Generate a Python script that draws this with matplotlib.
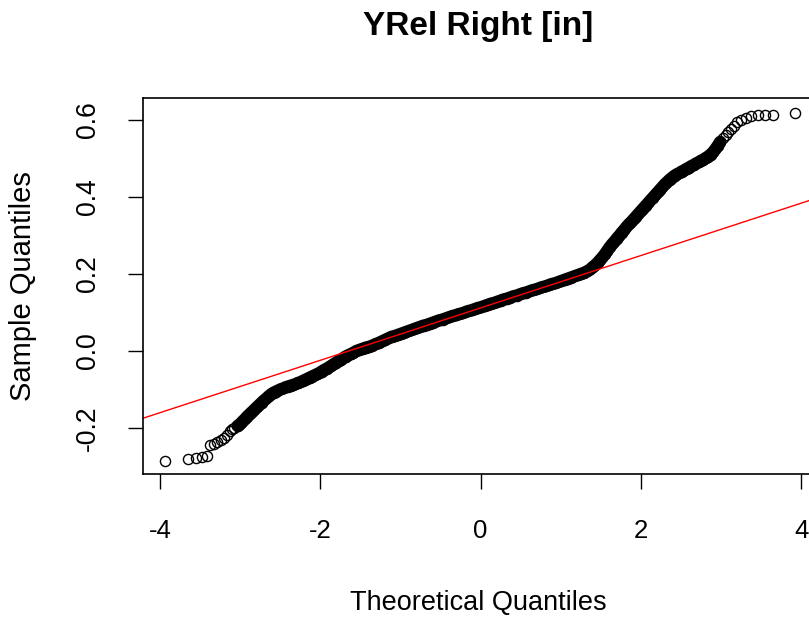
import matplotlib
matplotlib.use("Agg")
import matplotlib.pyplot as plt

plt.rcParams['font.family'] = ['Liberation Sans', 'DejaVu Sans']
plt.rcParams['axes.unicode_minus'] = False

# lower tail (sparse)
tail_lo_x = [-3.94, -3.65, -3.55, -3.47, -3.41, -3.37, -3.33, -3.29, -3.24,
             -3.20, -3.16, -3.13, -3.10, -3.07]
tail_lo_y = [-0.286, -0.281, -0.277, -0.275, -0.271, -0.244, -0.240, -0.236,
             -0.231, -0.226, -0.218, -0.208, -0.203, -0.199]

# left part of the dense band
band1_x = [-3.03, -3.00, -2.97, -2.94, -2.91, -2.88, -2.85, -2.82, -2.79, -2.76,
           -2.73, -2.70, -2.67, -2.64, -2.61, -2.58, -2.55, -2.52, -2.49, -2.46,
           -2.43, -2.40, -2.37, -2.34, -2.31, -2.28, -2.25, -2.22, -2.19, -2.16,
           -2.13, -2.10, -2.07, -2.04, -2.01, -1.98, -1.95, -1.92, -1.89, -1.86,
           -1.83, -1.80, -1.77, -1.74, -1.71, -1.68, -1.65, -1.62, -1.59]
band1_y = [-0.194, -0.190, -0.183, -0.177, -0.170, -0.164, -0.158, -0.152, -0.146, -0.140,
           -0.134, -0.128, -0.123, -0.117, -0.112, -0.108, -0.105, -0.102, -0.099, -0.097,
           -0.094, -0.092, -0.090, -0.088, -0.086, -0.083, -0.081, -0.078, -0.075, -0.072,
           -0.069, -0.066, -0.063, -0.060, -0.057, -0.053, -0.049, -0.046, -0.042, -0.038,
           -0.034, -0.030, -0.026, -0.022, -0.018, -0.014, -0.011, -0.008, -0.005]

# middle part, close to the reference line
band2_x = [-1.55, -1.51, -1.47, -1.43, -1.39, -1.35, -1.31, -1.27, -1.23, -1.19,
           -1.15, -1.11, -1.07, -1.03, -0.99, -0.95, -0.91, -0.87, -0.83, -0.79,
           -0.75, -0.71, -0.67, -0.63, -0.59, -0.55, -0.51, -0.47, -0.43, -0.39,
           -0.35, -0.31, -0.27, -0.23, -0.19, -0.15, -0.11, -0.07, -0.03, 0.01,
           0.05, 0.09, 0.13, 0.17, 0.21, 0.25, 0.29, 0.33, 0.37, 0.41,
           0.45, 0.49, 0.53, 0.57, 0.61, 0.65, 0.69, 0.73, 0.77, 0.81,
           0.85, 0.89, 0.93, 0.97, 1.01, 1.05, 1.09, 1.13, 1.17, 1.21,
           1.25, 1.29, 1.33, 1.37]
band2_y = [0.000, 0.003, 0.006, 0.009, 0.011, 0.014, 0.018, 0.021, 0.025, 0.029,
           0.033, 0.037, 0.039, 0.042, 0.045, 0.048, 0.051, 0.054, 0.057, 0.060,
           0.063, 0.066, 0.068, 0.071, 0.074, 0.077, 0.080, 0.082, 0.085, 0.088,
           0.091, 0.093, 0.096, 0.098, 0.101, 0.104, 0.106, 0.109, 0.112, 0.114,
           0.117, 0.120, 0.123, 0.125, 0.128, 0.131, 0.134, 0.136, 0.139, 0.142,
           0.144, 0.147, 0.150, 0.152, 0.155, 0.158, 0.160, 0.163, 0.166, 0.168,
           0.171, 0.174, 0.176, 0.179, 0.182, 0.185, 0.188, 0.191, 0.194, 0.197,
           0.200, 0.203, 0.207, 0.212]

# steep right part
band3_x = [1.40, 1.43, 1.46, 1.49, 1.52, 1.55, 1.58, 1.61, 1.64, 1.67,
           1.70, 1.73, 1.76, 1.79, 1.82, 1.85, 1.88, 1.91, 1.94, 1.97,
           2.00, 2.03, 2.06, 2.09, 2.12, 2.15, 2.18, 2.21, 2.24, 2.27,
           2.30, 2.33, 2.36, 2.39, 2.42, 2.45, 2.48, 2.51, 2.54, 2.57,
           2.60, 2.63, 2.66, 2.69, 2.72, 2.75, 2.78, 2.81, 2.84, 2.87,
           2.90, 2.93, 2.96, 2.99]
band3_y = [0.218, 0.223, 0.229, 0.236, 0.243, 0.251, 0.260, 0.269, 0.277, 0.284,
           0.292, 0.299, 0.307, 0.314, 0.322, 0.329, 0.335, 0.342, 0.349, 0.356,
           0.363, 0.370, 0.377, 0.384, 0.391, 0.398, 0.405, 0.412, 0.419, 0.426,
           0.433, 0.439, 0.445, 0.450, 0.455, 0.459, 0.462, 0.466, 0.469, 0.473,
           0.476, 0.480, 0.483, 0.487, 0.490, 0.494, 0.497, 0.501, 0.505, 0.510,
           0.516, 0.524, 0.533, 0.543]

# upper tail (sparse)
tail_hi_x = [3.03, 3.06, 3.09, 3.12, 3.16, 3.20, 3.25, 3.31, 3.38, 3.46, 3.55, 3.65, 3.92]
tail_hi_y = [0.553, 0.562, 0.570, 0.577, 0.585, 0.594, 0.600, 0.606, 0.610, 0.612,
             0.613, 0.614, 0.619]

# qqline
line_intercept = 0.112
line_slope = 0.068

xticks = [-4, -2, 0, 2, 4]
yticks = [-0.2, 0.0, 0.2, 0.4, 0.6]
ytick_labels = ['-0.2', '0.0', '0.2', '0.4', '0.6']

band_x = band1_x + band2_x + band3_x
band_y = band1_y + band2_y + band3_y
theo = tail_lo_x + band_x + tail_hi_x
samp = tail_lo_y + band_y + tail_hi_y

W, H = 809, 617
fig = plt.figure(figsize=(W / 100, H / 100), dpi=100)
ax = fig.add_axes([143 / W, (H - 474) / H, (818 - 143) / W, (474 - 98) / H])

# where the circles pile up they merge into a solid black band
ax.plot(band_x, band_y, color='black', linewidth=9.0,
        solid_capstyle='round', solid_joinstyle='round')
ax.plot(theo, samp, linestyle='none', marker='o', markersize=7.3,
        markerfacecolor='none', markeredgecolor='black', markeredgewidth=1.0)
ax.axline((0, line_intercept), slope=line_slope, color='red', linewidth=1.0)

ax.set_xlim(-4.21, 4.21)
ax.set_ylim(-0.319, 0.657)
ax.set_xticks(xticks)
ax.set_yticks(yticks)
ax.set_yticklabels(ytick_labels, rotation=90, va='center')

ax.tick_params(axis='both', direction='out', length=10.5, width=1.0,
               labelsize=18.5, color='black')
ax.tick_params(axis='y', labelsize=19.2, pad=20)
ax.tick_params(axis='x', pad=22)
for sp in ax.spines.values():
    sp.set_linewidth(1.2)
    sp.set_color('black')

fig.text(478 / W, 1 - 26 / H, 'YRel Right [in]', ha='center', va='center',
         fontsize=24, fontweight='bold')
fig.text(478 / W, 1 - 603 / H, 'Theoretical Quantiles', ha='center', va='center',
         fontsize=19.5)
fig.text(23 / W, 1 - 286 / H, 'Sample Quantiles', ha='center', va='center',
         rotation=90, fontsize=21)

fig.savefig('out.png', dpi=100)
